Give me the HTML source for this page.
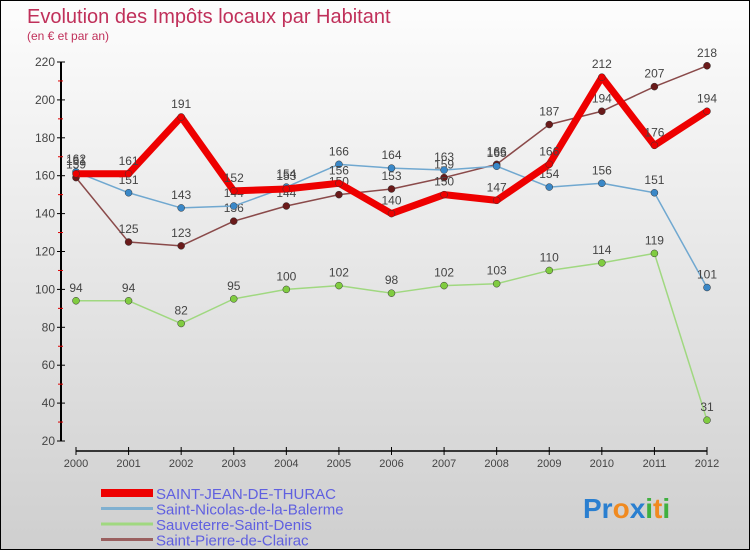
<!DOCTYPE html>
<html><head><meta charset="utf-8"><style>
body{margin:0}
#c{width:750px;height:550px;position:relative;box-sizing:border-box;border:1px solid #000;background:linear-gradient(#fdfdfd,#cfcfcf);font-family:"Liberation Sans",sans-serif;overflow:hidden}
</style></head><body>
<div id="c">
<svg id="s" width="750" height="550" style="position:absolute;left:0;top:0">
<text x="26" y="22" font-size="20" fill="#c0305a">Evolution des Impôts locaux par Habitant</text>
<text x="26" y="39" font-size="12" fill="#c0305a">(en € et par an)</text>
<g id="g"></g>
<text x="582" y="517" font-size="28" font-weight="bold"><tspan fill="#2a7fd0">Pr</tspan><tspan fill="#f08a20">o</tspan><tspan fill="#2a7fd0">x</tspan><tspan fill="#40b040">i</tspan><tspan fill="#f08a20">t</tspan><tspan fill="#40b040">i</tspan></text>
</svg>
</div>
<script>
const years=["2000","2001","2002","2003","2004","2005","2006","2007","2008","2009","2010","2011","2012"];
const yTicks=[20,40,60,80,100,120,140,160,180,200,220];
const sjt=[161,161,191,152,153,156,140,150,147,166,212,176,194];
const sn=[162,151,143,144,154,166,164,163,165,154,156,151,101];
const ssd=[94,94,82,95,100,102,98,102,103,110,114,119,31];
const spc=[159,125,123,136,144,150,153,159,166,187,194,207,218];
const names=["SAINT-JEAN-DE-THURAC","Saint-Nicolas-de-la-Balerme","Sauveterre-Saint-Denis","Saint-Pierre-de-Clairac"];
const NS="http://www.w3.org/2000/svg";
const g=document.getElementById('g');
const X=i=>75+i*(706-75)/12;
const Y=v=>440-(v-20)*(440-61)/200;
function mk(t,a,p){const e=document.createElementNS(NS,t);for(const k in a)e.setAttribute(k,a[k]);(p||g).appendChild(e);return e;}
// axes
let e=mk('line',{x1:60,y1:61,x2:60,y2:440,stroke:'#000','stroke-width':2});


yTicks.forEach(v=>{mk('line',{x1:56,x2:64,y1:Y(v),y2:Y(v),stroke:'#000'});
 if(v<220)mk('line',{x1:57,x2:62,y1:Y(v+10),y2:Y(v+10),stroke:'#d00'});
 const t=mk('text',{x:54,y:Y(v)+4,'text-anchor':'end','font-size':12,fill:'#444'});t.textContent=v;
 
 });
e=mk('line',{x1:75,y1:450,x2:706,y2:450,stroke:'#000','stroke-width':1.5});


years.forEach((y,i)=>{mk('line',{x1:X(i),x2:X(i),y1:446,y2:454,stroke:'#000'});
 const t=mk('text',{x:X(i),y:466,'text-anchor':'middle','font-size':11,fill:'#444'});t.textContent=y;
 
 });
function series(d,col,w,dot,name,lab){
 const p=mk('polyline',{points:d.map((v,i)=>X(i)+','+Y(v)).join(' '),fill:'none',stroke:col,'stroke-width':w,'stroke-linejoin':'round'});
 
 
 d.forEach((v,i)=>{const c=mk('circle',{cx:X(i),cy:Y(v),r:3.5,fill:dot,stroke:'#333','stroke-width':0.5});
  
  
  const t=mk('text',{x:X(i),y:Y(v)-9,'text-anchor':'middle','font-size':12,fill:'#444'});t.textContent=v;
  
  });
}
series(ssd,'#a0d880',1.5,'#80cc40','sauveterre');
series(spc,'#8a4a4a',1.5,'#6a1a1a','saint-pierre');
series(sn,'#70a8d0',1.5,'#3a88c8','saint-nicolas');
series(sjt,'#ee0000',7,'#ee0000','saint-jean');
const lc=['#ee0000','#80b0d0','#a0d880','#9a6060'],lw=[8,3,3,3];
names.forEach((n,i)=>{const y=492+i*15.5;
 const l=mk('line',{x1:100,x2:152,y1:y,y2:y,stroke:lc[i],'stroke-width':lw[i]});
 
 
 const t=mk('text',{x:155,y:y+6,'font-size':15,fill:'#6060e0'});t.textContent=n;
 
 });
</script>
</body></html>
